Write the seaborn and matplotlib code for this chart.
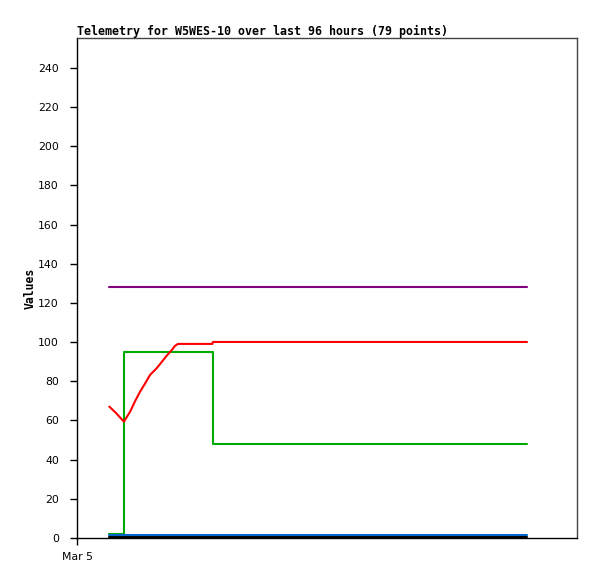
import matplotlib
matplotlib.use('Agg')
import matplotlib.pyplot as plt
import seaborn as sns
import pandas as pd

sns.set_style('white')
plt.rcParams['font.family'] = ['DejaVu Sans']
plt.rcParams['text.color'] = 'black'
plt.rcParams['axes.labelcolor'] = 'black'
plt.rcParams['xtick.color'] = 'black'
plt.rcParams['ytick.color'] = 'black'

# hours since start of window (Mar 5 at left edge)
red_hours = [6.2, 7.5, 9.0, 10.2, 11.1, 12.1, 13.1, 14.0, 15.3, 16.3, 17.2,
             18.2, 18.8, 19.4, 26.0, 26.1, 86.4]
red_values = [67.1, 63.8, 59.4, 64.5, 69.6, 74.7, 79.0, 83.2, 86.7, 90.0, 93.0,
              96.0, 98.1, 99.1, 99.1, 100.1, 100.1]

green_hours = [6.2, 9.0, 26.1, 86.4]
green_values = [2, 95, 48, 48]

flat_hours = [6.2, 86.4]
purple_values = [128, 128]
blue_values = [1.6, 1.6]
black_values = [0.4, 0.4]

y_ticks = list(range(0, 241, 20))
x_tick_labels = ['Mar 5']

fig = plt.figure(figsize=(5.97, 5.79), dpi=100)
ax = fig.add_axes([77 / 597, 1 - 538 / 579, 500 / 597, 500 / 579])

lw = 1.5
sns.lineplot(x=flat_hours, y=black_values, color='black', linewidth=lw, ax=ax)
sns.lineplot(x=flat_hours, y=purple_values, color='#800080', linewidth=lw, ax=ax)
sns.lineplot(x=green_hours, y=green_values, color='#00aa00', linewidth=lw,
             drawstyle='steps-post', ax=ax)
sns.lineplot(x=flat_hours, y=blue_values, color='#0066cc', linewidth=lw, ax=ax)
sns.lineplot(x=red_hours, y=red_values, color='#ff0000', linewidth=lw, ax=ax)

ax.set_xlim(0, 96)
ax.set_ylim(0, 255.3)
ax.set_yticks(y_ticks)
ax.set_yticklabels([str(v) for v in y_ticks], fontsize=7.8)
ax.set_xticks([0])
ax.set_xticklabels(x_tick_labels, fontsize=7.8)
ax.tick_params(axis='y', direction='out', length=5, width=1, color='black',
               left=True, pad=8)
ax.tick_params(axis='x', direction='out', length=5, width=1, color='black',
               bottom=True, pad=5)

for side in ['left', 'bottom']:
    ax.spines[side].set_color('black')
    ax.spines[side].set_linewidth(1)
for side in ['top', 'right']:
    ax.spines[side].set_color('#444444')
    ax.spines[side].set_linewidth(1)

ax.set_ylabel('Values', fontsize=8.3, fontweight='bold', family='DejaVu Sans Mono')
ax.yaxis.set_label_coords(-0.08, 0.5)
ax.set_title('Telemetry for W5WES-10 over last 96 hours (79 points)', loc='left',
             fontsize=8.35, fontweight='bold', family='DejaVu Sans Mono', pad=2)

fig.savefig('out.png', dpi=100)
